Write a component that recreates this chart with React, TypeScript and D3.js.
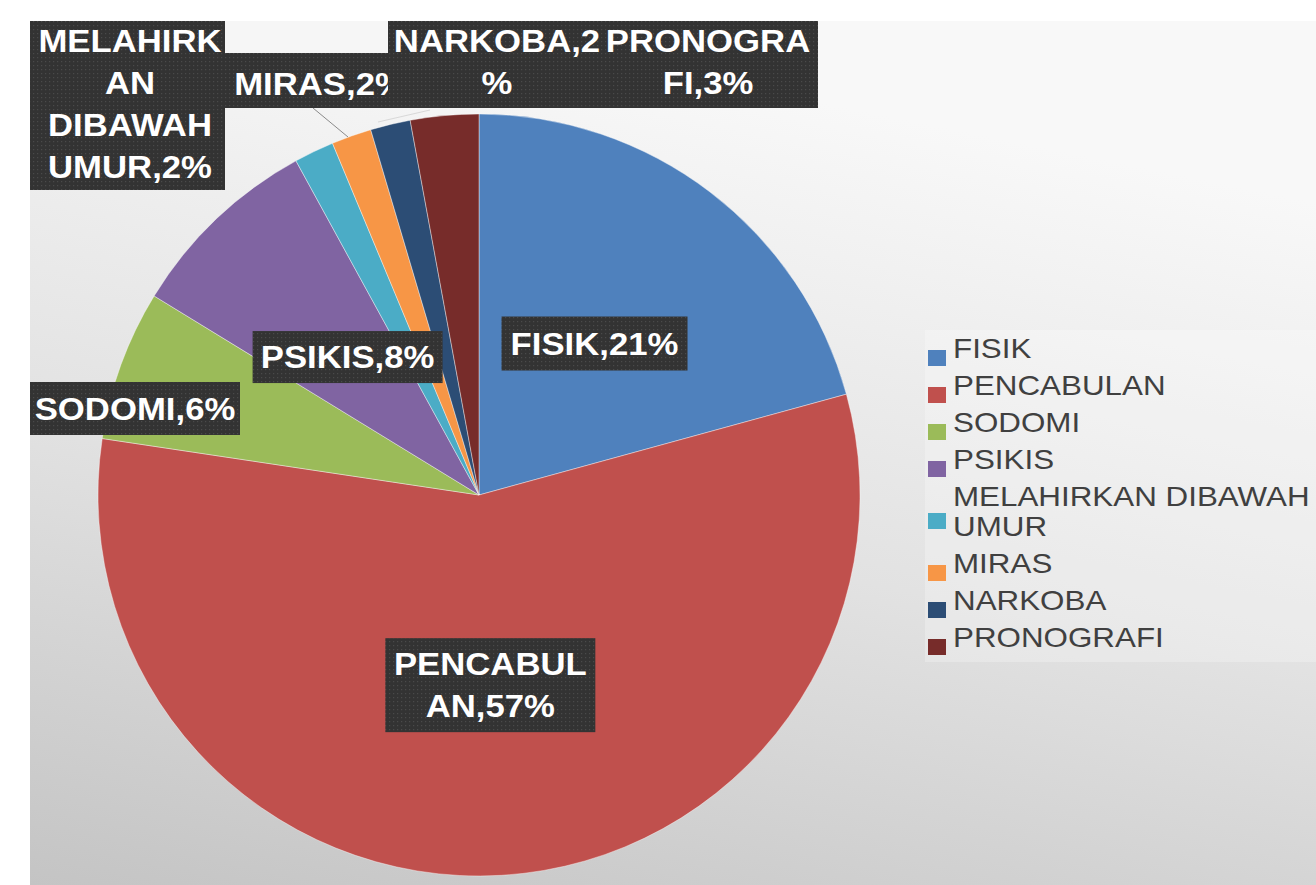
import React from "react";
import * as d3 from "d3";

const categories = ["FISIK", "PENCABULAN", "SODOMI", "PSIKIS", "MELAHIRKAN DIBAWAH UMUR", "MIRAS", "NARKOBA", "PRONOGRAFI"];
const values = [20.8, 56.8, 6.4, 8.3, 1.7, 1.7, 1.7, 2.9];
const percentLabels = ["21%", "57%", "6%", "8%", "2%", "2%", "2%", "3%"];
const colors = ["#4F81BD", "#C0504D", "#9BBB59", "#8064A2", "#4BACC6", "#F79646", "#2C4D75", "#772C2A"];
const legendLines = [["FISIK"], ["PENCABULAN"], ["SODOMI"], ["PSIKIS"], ["MELAHIRKAN DIBAWAH", "UMUR"], ["MIRAS"], ["NARKOBA"], ["PRONOGRAFI"]];

const W = 1316, H = 885;
const cx = 479, cy = 495, R = 381;
const SX = 1.12;
const FONT = "'Liberation Sans', Arial, sans-serif";

function LabelText({ lines, x, y, lh, size = 31 }: { lines: string[]; x: number; y: number; lh: number; size?: number }) {
  return (
    <g transform={`translate(${x},${y}) scale(${SX},1)`}>
      {lines.map((l, i) => (
        <text key={i} x={0} y={i * lh} textAnchor="middle" fill="#ffffff" fontFamily={FONT} fontWeight="bold" fontSize={size}>{l}</text>
      ))}
    </g>
  );
}

function Box({ x, y, w, h }: { x: number; y: number; w: number; h: number }) {
  return <rect x={x} y={y} width={w} height={h} fill="url(#dots)" />;
}

export default function App() {
  const pie = d3.pie<number>().sort(null).startAngle(0).endAngle(2 * Math.PI);
  const arcs = pie(values);
  const arc = d3.arc<d3.PieArcDatum<number>>().innerRadius(0).outerRadius(R);
  const cen = (i: number) => arc.centroid(arcs[i]);
  const inside = [0, 1, 3];
  const insideSize: Record<number, [number, number]> = { 0: [186, 54], 1: [210, 94], 3: [190, 52] };
  const insideLines: Record<number, string[]> = {
    0: [`${categories[0]},${percentLabels[0]}`],
    1: ["PENCABUL", `AN,${percentLabels[1]}`],
    3: [`${categories[3]},${percentLabels[3]}`],
  };

  // legend layout
  let ly = 358;
  const legendPos: { y: number; sq: number }[] = [];
  legendLines.forEach((ls) => {
    const top = ly;
    const last = ly + (ls.length - 1) * 30;
    legendPos.push({ y: top, sq: (top + last) / 2 - 8 });
    ly = last + 37;
  });

  return (
    <svg width={W} height={H} style={{ position: "absolute", left: 0, top: 0 }}>
      <defs>
        <linearGradient id="bg" x1="0.3" y1="0" x2="0" y2="1">
          <stop offset="0" stopColor="#f8f8f8" />
          <stop offset="0.5" stopColor="#e2e2e2" />
          <stop offset="1" stopColor="#c4c4c4" />
        </linearGradient>
        <pattern id="dots" width="4" height="4" patternUnits="userSpaceOnUse">
          <rect width="4" height="4" fill="#333333" />
          <rect x="1" y="1" width="1.2" height="1.2" fill="#4a4a4a" />
        </pattern>
      </defs>
      <rect x={0} y={0} width={W} height={H} fill="#ffffff" />
      <rect x={30} y={21} width={W - 30} height={H - 21} fill="url(#bg)" />
      <rect x={925} y={330} width={391} height={332} fill="#ffffff" opacity={0.25} />

      <g transform={`translate(${cx},${cy})`}>
        {arcs.map((a, i) => (
          <path key={i} d={arc(a) || ""} fill={colors[i]} stroke="#ffffff" strokeOpacity={0.5} strokeWidth={0.8} />
        ))}
      </g>

      {/* inside labels */}
      {inside.map((i) => {
        const [x, y] = cen(i);
        const [w, h] = insideSize[i];
        const lines = insideLines[i];
        const X = cx + x, Y = cy + y;
        return (
          <g key={i}>
            <Box x={X - w / 2} y={Y - h / 2} w={w} h={h} />
            <LabelText lines={lines} x={X} y={Y - (lines.length - 1) * 21 + 11} lh={42} />
          </g>
        );
      })}

      {/* SODOMI */}
      <Box x={30} y={382} w={210} h={53} />
      <LabelText lines={[`${categories[2]},${percentLabels[2]}`]} x={135} y={420} lh={42} />

      {/* leader line MIRAS */}
      <line x1={313} y1={108} x2={348} y2={137} stroke="#8a8a8a" strokeWidth={1} />
      <line x1={378} y1={122} x2={430} y2={110} stroke="#d8d8d8" strokeWidth={1} />

      {/* MELAHIRKAN */}
      <Box x={30} y={21} w={195} h={169} />
      <LabelText lines={["MELAHIRK", "AN", "DIBAWAH", "UMUR," + percentLabels[4]]} x={130} y={52} lh={42} />
      {/* MIRAS */}
      <Box x={225} y={53} w={170} h={55} />
      <LabelText lines={["MIRAS," + "2%"]} x={320} y={95} lh={42} />
      <rect x={225} y={21} width={162} height={32} fill="#f6f6f6" />
      {/* NARKOBA & PRONOGRAFI */}
      <Box x={388} y={21} w={220} h={87} />
      <Box x={600} y={21} w={218} h={87} />
      <LabelText lines={["NARKOBA,2", "%"]} x={497} y={52} lh={42} />
      <LabelText lines={["PRONOGRA", "FI," + percentLabels[7]]} x={708} y={52} lh={42} />

      {/* legend */}
      {legendLines.map((ls, i) => (
        <g key={i}>
          <rect x={928} y={legendPos[i].sq} width={18} height={16} fill={colors[i]} />
          {ls.map((l, j) => (
            <text key={j} transform={`translate(953,${legendPos[i].y + j * 30}) scale(${SX},1)`} fill="#404040" fontFamily={FONT} fontSize={28}>{l}</text>
          ))}
        </g>
      ))}
    </svg>
  );
}
